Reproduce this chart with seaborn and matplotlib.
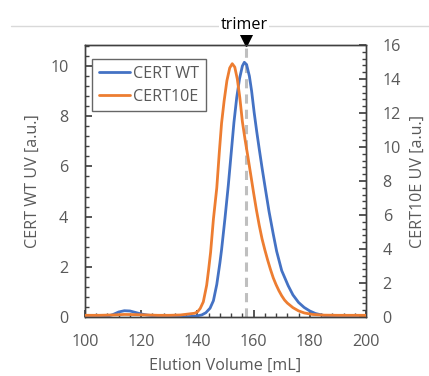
import matplotlib
matplotlib.use("Agg")
import matplotlib.pyplot as plt
from matplotlib.lines import Line2D
from matplotlib.ticker import MultipleLocator
from matplotlib.transforms import ScaledTranslation
import seaborn as sns
import pandas as pd

sns.set_theme(style="white")
plt.rcParams['font.family'] = ['Open Sans', 'DejaVu Sans']

# CERT WT (left axis)
wt_volume = [100, 105, 108, 110, 112, 114, 116, 118, 120, 122, 125, 128, 132, 136, 139, 141.5,
             143, 144.5, 145.7, 146.9, 148, 148.6, 149.8, 151, 152, 153, 154, 155, 156,
             156.7, 157.5, 158.5, 159.3, 160.2, 161.1, 162, 163, 164.2, 165.5, 167, 168.2,
             170, 172.3, 174, 176, 178, 180, 182, 185, 190, 195, 200]
wt_uv = [0.0, 0.0, 0.03, 0.10, 0.20, 0.25, 0.24, 0.18, 0.12, 0.08, 0.04, 0.02, 0.01, 0.01, 0.03, 0.08,
         0.17, 0.35, 0.65, 1.3, 2.15, 2.68, 3.92, 5.25, 6.5, 7.75, 8.75, 9.5, 10.0,
         10.15, 10.06, 9.6, 9.0, 8.15, 7.4, 6.7, 5.95, 5.1, 4.2, 3.3, 2.62,
         1.85, 1.25, 0.88, 0.58, 0.38, 0.24, 0.14, 0.06, 0.02, 0.01, 0.01]

# CERT10E (right axis)
e10_volume = [100, 105, 110, 114, 118, 122, 126, 130, 134, 137, 139, 140, 141, 142.1, 143.3,
              144, 144.7, 145.7, 146.9, 147.8, 148.6, 149.5, 150.5, 151.5, 152.4, 153.3,
              154.2, 155.1, 156, 157, 158, 159, 160, 161, 162, 163, 164, 165, 166, 167, 168,
              169, 170, 171, 172, 174, 176, 178, 181, 185, 190, 200]
e10_uv = [0.1, 0.1, 0.12, 0.15, 0.14, 0.12, 0.1, 0.1, 0.12, 0.18, 0.22, 0.3, 0.5, 0.89, 1.87,
          2.8, 3.81, 5.76, 7.6, 9.7, 11.4, 12.7, 13.9, 14.65, 14.9, 14.7,
          14.0, 12.9, 11.5, 10.4, 9.4, 8.35, 7.3, 6.3, 5.4, 4.6, 3.95, 3.35, 2.8, 2.3, 1.9,
          1.55, 1.25, 1.0, 0.82, 0.55, 0.36, 0.24, 0.15, 0.11, 0.1, 0.1]

trimer_volume = 157.2

BLUE = "#4472C4"
ORANGE = "#ED7D31"
GREY = "#595959"
SPINE = "#404040"
FS = 11.6

fig = plt.figure(figsize=(4.29, 3.76), dpi=100)
ax = fig.add_axes([85/429, 1-317/376, (366-85)/429, (317-45)/376])
ax2 = ax.twinx()

df_wt = pd.DataFrame({"v": wt_volume, "uv": wt_uv})
df_e = pd.DataFrame({"v": e10_volume, "uv": e10_uv})

ax.axvline(trimer_volume, color="#BFBFBF", lw=2.2, ls=(0, (3, 2)), zorder=1)
sns.lineplot(data=df_wt, x="v", y="uv", ax=ax, color=BLUE, lw=2, zorder=3)
sns.lineplot(data=df_e, x="v", y="uv", ax=ax2, color=ORANGE, lw=2, zorder=3)

ax.set_xlim(100, 200)
ax.set_ylim(0, 10.84)
ax2.set_ylim(0, 16)
ax.xaxis.set_major_locator(MultipleLocator(20))
ax.xaxis.set_minor_locator(MultipleLocator(4))
ax.yaxis.set_major_locator(MultipleLocator(2))
ax.yaxis.set_minor_locator(MultipleLocator(0.4))
ax2.yaxis.set_major_locator(MultipleLocator(2))
ax2.yaxis.set_minor_locator(MultipleLocator(0.4))

for a in (ax, ax2):
    for s in a.spines.values():
        s.set_color(SPINE)
        s.set_linewidth(1.0)
ax.tick_params(axis="x", which="both", direction="in", colors=SPINE, labelcolor=GREY,
               labelsize=FS, bottom=True, top=False, pad=12)
ax.tick_params(axis="x", which="major", length=5)
ax.tick_params(axis="x", which="minor", length=3)
ax.tick_params(axis="y", which="both", direction="in", colors=SPINE, labelcolor=GREY,
               labelsize=FS, left=True, right=False, pad=12)
ax.tick_params(axis="y", which="major", length=5)
ax.tick_params(axis="y", which="minor", length=3)
ax2.tick_params(axis="y", which="both", direction="in", colors=SPINE, labelcolor=GREY,
                labelsize=FS, right=True, left=False, pad=12)
ax2.tick_params(axis="y", which="major", length=5)
ax2.tick_params(axis="y", which="minor", length=3)

ax.set_xlabel("Elution Volume [mL]", color=GREY, fontsize=FS, labelpad=6)
ax.set_ylabel("CERT WT UV [a.u.]", color=GREY, fontsize=FS, labelpad=7)
ax2.set_ylabel("CERT10E UV [a.u.]", color=GREY, fontsize=FS, labelpad=6)
ax.grid(False)
ax2.grid(False)

handles = [Line2D([], [], color=BLUE, lw=2), Line2D([], [], color=ORANGE, lw=2)]
leg = ax.legend(handles, ["CERT WT", "CERT10E"], loc="upper left",
                bbox_to_anchor=(7/281, 1-14/272), frameon=True, fancybox=False,
                fontsize=FS, handlelength=1.95, handletextpad=0.2,
                borderpad=0.42, labelspacing=0.42, borderaxespad=0)
leg.get_frame().set_edgecolor(SPINE)
leg.get_frame().set_linewidth(1.0)
for t in leg.get_texts():
    t.set_color(GREY)

# grey rule across the top of the figure (behind the label)
fig.add_artist(Line2D([11/429, 1.0], [1-26/376, 1-26/376], color="#D9D9D9", lw=1, zorder=0))

# trimer marker above axes
up = ax.get_xaxis_transform() + ScaledTranslation(0, 5/100, fig.dpi_scale_trans)
ax.plot([trimer_volume], [1.0], marker="v", color="black", markersize=8,
        transform=up, clip_on=False, zorder=5)
ax.annotate("trimer", xy=(trimer_volume, 1.0), xycoords=ax.get_xaxis_transform(),
            xytext=(-1, 8.5), textcoords="offset points", ha="center", va="bottom",
            fontsize=FS, color="black", zorder=10,
            bbox=dict(facecolor="white", edgecolor="none", pad=1))

fig.savefig("out.png", dpi=100)
